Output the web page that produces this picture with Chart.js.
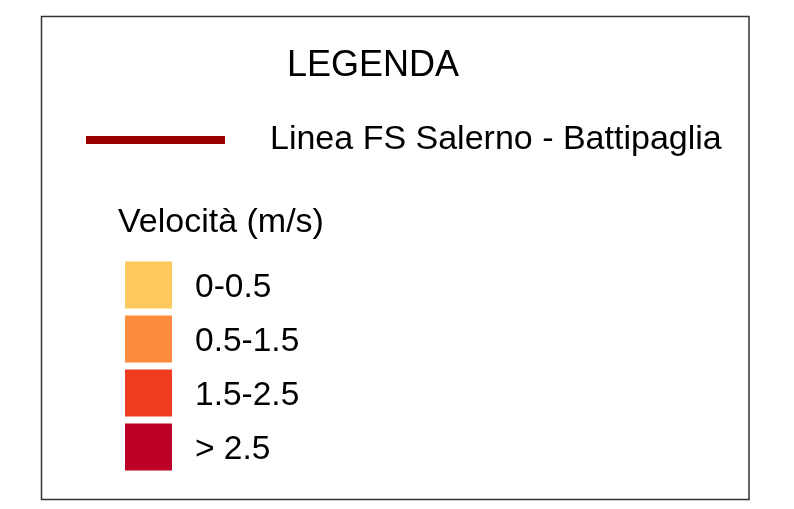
<!DOCTYPE html>
<html>
<head>
<meta charset="utf-8">
<script src="https://cdn.jsdelivr.net/npm/chart.js@4"></script>
<style>
  body { margin: 0; background: #fff; }
  #wrap { width: 794px; height: 509px; }
</style>
</head>
<body>
<div id="wrap"><canvas id="legend"></canvas></div>
<script>
// legend data
const title = "LEGENDA";
const lineLabel = "Linea FS Salerno - Battipaglia";
const lineColor = "#9b0000";
const groupTitle = "Velocità (m/s)";
const classes = ["0-0.5", "0.5-1.5", "1.5-2.5", "> 2.5"];
const classColors = ["#fdc85e", "#fd8b3d", "#ef3b20", "#bd0026"];

const font = "Liberation Sans, Arial, sans-serif";

// draws the frame, titles, the railway line and the class labels
const legendText = {
  id: "legendText",
  afterDatasetsDraw(chart) {
    const ctx = chart.ctx;
    ctx.save();
    // frame
    ctx.strokeStyle = "#333";
    ctx.lineWidth = 1.5;
    ctx.strokeRect(41.5, 16.5, 707.5, 483);

    ctx.fillStyle = "#000";
    ctx.textBaseline = "alphabetic";
    ctx.font = "36px " + font;
    ctx.textAlign = "center";
    ctx.fillText(title, 373, 76);

    // railway line
    ctx.strokeStyle = lineColor;
    ctx.lineWidth = 8;
    ctx.beginPath();
    ctx.moveTo(86, 140);
    ctx.lineTo(225, 140);
    ctx.stroke();

    ctx.font = "34px " + font;
    ctx.textAlign = "left";
    ctx.fillText(lineLabel, 270, 149);
    ctx.fillText(groupTitle, 118, 232);

    // class labels next to each square
    ctx.font = "33.5px " + font;
    const meta = chart.getDatasetMeta(0);
    meta.data.forEach((pt, i) => {
      ctx.fillText(classes[i], 195, pt.y + 12);
    });
    ctx.restore();
  },
};

new Chart(document.getElementById("legend"), {
  type: "scatter",
  data: {
    datasets: [
      {
        data: classes.map((c) => ({ x: 0, y: c })),
        backgroundColor: classColors,
        borderWidth: 0,
        pointStyle: "rect",
        pointRadius: 33.2,
        pointHoverRadius: 33.2,
        clip: false,
      },
    ],
  },
  options: {
    responsive: true,
    maintainAspectRatio: false,
    animation: false,
    events: [],
    layout: {
      padding: { left: 148.5, right: 0, top: 258, bottom: 35 },
    },
    plugins: {
      legend: { display: false },
      tooltip: { enabled: false },
    },
    scales: {
      x: { type: "linear", min: 0, max: 1, display: false },
      y: { type: "category", labels: classes, offset: true, display: false },
    },
  },
  plugins: [legendText],
});
</script>
</body>
</html>
